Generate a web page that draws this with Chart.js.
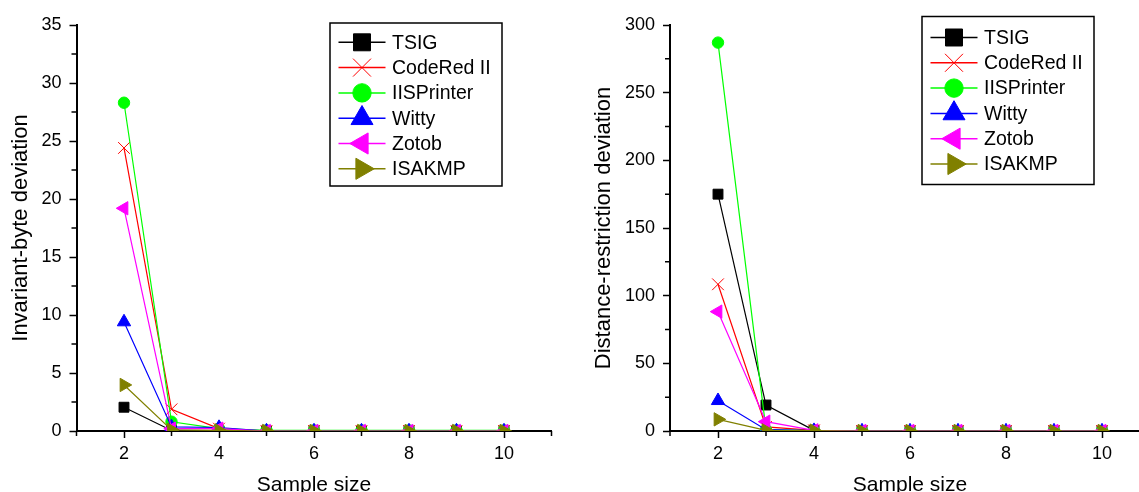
<!DOCTYPE html>
<html>
<head>
<meta charset="utf-8">
<script src="https://cdn.jsdelivr.net/npm/chart.js@4.4.1/dist/chart.umd.min.js"></script>
<style>
  html, body { margin: 0; padding: 0; background: #fff; overflow: hidden; width: 1139px; height: 492px; }
  #left { position: absolute; left: 0; top: 0; width: 570px; height: 492px; }
  #right { position: absolute; left: 570px; top: 0; width: 600px; height: 492px; }
</style>
</head>
<body>
<div id="left"><canvas id="invChart" width="570" height="492" style="width:570px;height:492px"></canvas></div>
<div id="right"><canvas id="distChart" width="600" height="492" style="width:600px;height:492px"></canvas></div>
<script>
// x values (sample size) and series names
const sampleSizes = [2, 3, 4, 5, 6, 7, 8, 9, 10];
const seriesNames = ['TSIG', 'CodeRed II', 'IISPrinter', 'Witty', 'Zotob', 'ISAKMP'];

// Invariant-byte deviation (left chart)
const invTSIG     = [2.05, 0.05, 0.02, 0, 0, 0, 0, 0, 0];
const invCodeRed  = [24.4, 1.87, 0.2, 0, 0, 0, 0, 0, 0];
const invIIS      = [28.3, 0.8, 0.2, 0.05, 0.05, 0.05, 0.05, 0.05, 0.05];
const invWitty    = [9.4, 0.35, 0.3, 0, 0, 0, 0, 0, 0];
const invZotob    = [19.2, 0.2, 0.2, 0, 0, 0, 0, 0, 0];
const invISAKMP   = [3.97, 0.1, 0.05, 0, 0, 0, 0, 0, 0];

// Distance-restriction deviation (right chart)
const distTSIG    = [175, 19.2, 0.5, 0, 0, 0, 0, 0, 0];
const distCodeRed = [108.4, 3, 0.5, 0, 0, 0, 0, 0, 0];
const distIIS     = [287, 1, 0.3, 0, 0, 0, 0, 0, 0];
const distWitty   = [22.4, 1, 0.3, 0, 0, 0, 0, 0, 0];
const distZotob   = [88.2, 6.9, 0.5, 0, 0, 0, 0, 0, 0];
const distISAKMP  = [8.6, 0.5, 0.3, 0, 0, 0, 0, 0, 0];

// ticks
const xTickValues  = [2, 4, 6, 8, 10];
const xMinorTicks  = [1, 3, 5, 7, 9, 11];
const invYTicks    = [0, 5, 10, 15, 20, 25, 30, 35];
const invYMinor    = [2.5, 7.5, 12.5, 17.5, 22.5, 27.5, 32.5];
const distYTicks   = [0, 50, 100, 150, 200, 250, 300];
const distYMinor   = [25, 75, 125, 175, 225, 275];

// styles
const colors      = ['#000000', '#ff0000', '#00ff00', '#0000ff', '#ff00ff', '#808000'];
const pointStyles = ['rect', 'crossRot', 'circle', 'triangle', 'triangle', 'triangle'];
const rotations   = [0, 0, 0, 0, -90, 90];
const pointRadii  = [7, 8.3, 5.7, 7.7, 7.7, 7.7];
const legendRadii = [12, 12.7, 9.2, 12.7, 12.2, 12.2];

const FONT = '"Liberation Sans", Arial, sans-serif';
Chart.defaults.font.family = FONT;
Chart.defaults.color = '#000';

// short minor tick marks
const minorTicksPlugin = {
  id: 'minorTicks',
  afterDraw(chart, args, opts) {
    const { ctx, chartArea, scales } = chart;
    ctx.save();
    ctx.strokeStyle = '#000';
    ctx.lineWidth = 1.5;
    ctx.beginPath();
    opts.x.forEach(v => {
      const px = scales.x.getPixelForValue(v);
      ctx.moveTo(px, chartArea.bottom);
      ctx.lineTo(px, chartArea.bottom + 5);
    });
    opts.y.forEach(v => {
      const py = scales.y.getPixelForValue(v);
      ctx.moveTo(chartArea.left, py);
      ctx.lineTo(chartArea.left - 5, py);
    });
    ctx.stroke();
    ctx.restore();
  }
};

// legend in a box, line + marker + name
const boxLegendPlugin = {
  id: 'boxLegend',
  afterDraw(chart, args, opts) {
    const ctx = chart.ctx;
    ctx.save();
    ctx.fillStyle = '#fff';
    ctx.fillRect(opts.left, opts.top, 172, opts.height);
    ctx.strokeStyle = '#000';
    ctx.lineWidth = 1.5;
    ctx.strokeRect(opts.left, opts.top, 172, opts.height);
    chart.data.datasets.forEach((ds, i) => {
      const y = opts.top + opts.rowStart + i * 25.3;
      ctx.strokeStyle = ds.borderColor;
      ctx.lineWidth = 1.5;
      ctx.beginPath();
      ctx.moveTo(opts.left + 8.5, y);
      ctx.lineTo(opts.left + 55.5, y);
      ctx.stroke();
      ctx.fillStyle = ds.borderColor;
      ctx.lineWidth = 1;
      Chart.helpers.drawPoint(ctx, {
        pointStyle: ds.pointStyle, rotation: ds.pointRotation,
        radius: legendRadii[i], borderWidth: 1
      }, opts.left + 32, y);
      ctx.fillStyle = '#000';
      ctx.font = '19.5px ' + FONT;
      ctx.textAlign = 'left';
      ctx.textBaseline = 'middle';
      ctx.fillText(ds.label, opts.left + 62, y + 1);
    });
    ctx.restore();
  }
};

function buildChart(id, values, yTitle, yMax, yTicks, yMinor, geo) {
  const datasets = seriesNames.map((name, i) => ({
    label: name,
    data: sampleSizes.map((x, j) => ({ x: x, y: values[i][j] })),
    borderColor: colors[i],
    backgroundColor: colors[i],
    borderWidth: 1.2,
    pointStyle: pointStyles[i],
    pointRotation: rotations[i],
    pointRadius: pointRadii[i],
    pointBorderWidth: 1,
    pointBackgroundColor: colors[i],
    pointBorderColor: colors[i],
    tension: 0,
    order: seriesNames.length - i
  }));

  const ctx = document.getElementById(id).getContext('2d');
  return new Chart(ctx, {
    type: 'line',
    data: { datasets: datasets },
    options: {
      responsive: false,
      animation: false,
      devicePixelRatio: 1,
      layout: { padding: { left: 0, top: 25, right: geo.padRight, bottom: 0 } },
      plugins: {
        legend: { display: false },
        tooltip: { enabled: false },
        minorTicks: { x: xMinorTicks, y: yMinor },
        boxLegend: geo.legend
      },
      scales: {
        x: {
          type: 'linear',
          min: 1,
          max: 11,
          afterBuildTicks: s => { s.ticks = xTickValues.map(v => ({ value: v })); },
          afterFit: s => { s.height = 61; },
          grid: { drawOnChartArea: false, drawTicks: true, tickLength: 7, tickColor: '#000', tickWidth: 1.5 },
          border: { color: '#000', width: 2 },
          ticks: { font: { size: 18 }, color: '#000', padding: 5, maxRotation: 0, autoSkip: false },
          title: { display: true, text: 'Sample size', font: { size: 21 }, color: '#000', padding: { top: 0, bottom: -6 } }
        },
        y: {
          type: 'linear',
          min: 0,
          max: yMax,
          afterBuildTicks: s => { s.ticks = yTicks.map(v => ({ value: v })); },
          afterFit: s => { s.width = geo.yWidth; },
          grid: { drawOnChartArea: false, drawTicks: true, tickLength: 7, tickColor: '#000', tickWidth: 1.5 },
          border: { color: '#000', width: 2 },
          ticks: { font: { size: 18 }, color: '#000', padding: 8 },
          title: { display: true, text: yTitle, font: { size: 22 }, color: '#000', padding: { top: geo.titlePad, bottom: 0 } }
        }
      }
    },
    plugins: [minorTicksPlugin, boxLegendPlugin]
  });
}

buildChart('invChart',
  [invTSIG, invCodeRed, invIIS, invWitty, invZotob, invISAKMP],
  'Invariant-byte deviation', 35, invYTicks, invYMinor,
  { yWidth: 76.5, padRight: 18.5, titlePad: 7.3,
    legend: { left: 330, top: 23, height: 163, rowStart: 19.3 } });

buildChart('distChart',
  [distTSIG, distCodeRed, distIIS, distWitty, distZotob, distISAKMP],
  'Distance-restriction deviation', 300, distYTicks, distYMinor,
  { yWidth: 100, padRight: 20, titlePad: 20.8,
    legend: { left: 352, top: 16.5, height: 168, rowStart: 21 } });
</script>
</body>
</html>
